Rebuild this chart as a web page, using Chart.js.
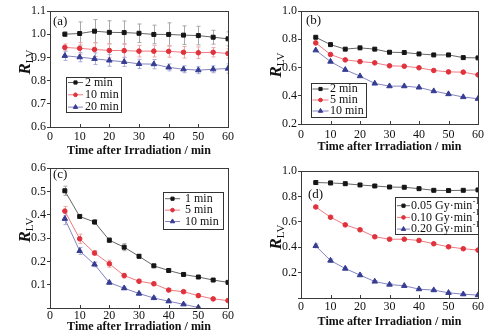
<!DOCTYPE html>
<html lang="en">
<head>
<meta charset="UTF-8" />
<title>R_LV vs time</title>
<script src="https://cdn.jsdelivr.net/npm/chart.js@4.4.1/dist/chart.umd.min.js"></script>
<style>
  * { margin: 0; padding: 0; }
  body { background: #fff; }
  .wrap { position: relative; width: 501px; height: 336px; overflow: hidden; }
  .wrap canvas { position: absolute; }
</style>
</head>
<body>
<div class="wrap">
  <canvas id="pa" style="left:0;top:0;width:250px;height:168px" width="250" height="168"></canvas>
  <canvas id="pb" style="left:250px;top:0;width:251px;height:168px" width="251" height="168"></canvas>
  <canvas id="pc" style="left:0;top:160px;width:250px;height:176px" width="250" height="176"></canvas>
  <canvas id="pd" style="left:250px;top:160px;width:251px;height:176px" width="251" height="176"></canvas>
</div>
<script>
  // time points (min)
  const times = [5, 10, 15, 20, 25, 30, 35, 40, 45, 50, 55, 60];

  // panel (a)
  const aLabels = ['2 min', '10 min', '20 min'];
  const a2 = [1.000, 1.003, 1.013, 1.008, 1.007, 1.004, 0.999, 0.999, 0.996, 0.994, 0.987, 0.980];
  const a10 = [0.943, 0.939, 0.934, 0.930, 0.929, 0.927, 0.927, 0.926, 0.922, 0.920, 0.922, 0.917];
  const a20 = [0.907, 0.901, 0.894, 0.887, 0.881, 0.872, 0.871, 0.857, 0.849, 0.845, 0.849, 0.852];
  const a2Err = [0.01, 0.05, 0.05, 0.05, 0.05, 0.04, 0.04, 0.05, 0.04, 0.04, 0.03, 0.03];
  const a10Err = [0.015, 0.025, 0.03, 0.03, 0.03, 0.025, 0.025, 0.025, 0.025, 0.025, 0.02, 0.02];
  const a20Err = [0.02, 0.02, 0.025, 0.025, 0.02, 0.02, 0.02, 0.015, 0.015, 0.015, 0.015, 0.02];

  // panel (b)
  const bLabels = ['2 min', '5 min', '10 min'];
  const b2 = [0.814, 0.762, 0.730, 0.739, 0.730, 0.708, 0.706, 0.696, 0.689, 0.689, 0.670, 0.668];
  const b5 = [0.774, 0.692, 0.654, 0.642, 0.633, 0.612, 0.609, 0.598, 0.579, 0.569, 0.567, 0.548];
  const b10 = [0.722, 0.642, 0.584, 0.539, 0.487, 0.468, 0.468, 0.459, 0.433, 0.412, 0.391, 0.379];

  // panel (c)
  const cLabels = ['1 min', '5 min', '10 min'];
  const c1 = [0.503, 0.393, 0.369, 0.291, 0.261, 0.222, 0.181, 0.161, 0.144, 0.133, 0.120, 0.110];
  const c5 = [0.416, 0.297, 0.236, 0.190, 0.139, 0.115, 0.104, 0.077, 0.070, 0.053, 0.039, 0.032];
  const c10 = [0.383, 0.245, 0.187, 0.109, 0.085, 0.062, 0.043, 0.029, 0.016, 0.002, null, null];
  const c1Err = [0.02, 0.006, 0.01, 0.01, 0.015, 0.008, 0.006, 0.006, 0.006, 0.006, 0.006, 0.005];
  const c5Err = [0.02, 0.02, 0.01, 0.015, 0.01, 0.008, 0.008, 0.006, 0.006, 0.006, 0.005, 0.005];
  const c10Err = [0.025, 0.015, 0.01, 0.006, 0.005, 0.005, 0.005, 0.005, 0.004, 0.004, 0, 0];

  // panel (d)
  const dLabels = ['0.05 Gy·min⁻¹', '0.10 Gy·min⁻¹', '0.20 Gy·min⁻¹'];
  const d005 = [0.909, 0.906, 0.900, 0.890, 0.882, 0.874, 0.872, 0.861, 0.848, 0.846, 0.848, 0.851];
  const d010 = [0.717, 0.636, 0.576, 0.537, 0.482, 0.463, 0.463, 0.453, 0.427, 0.403, 0.388, 0.377];
  const d020 = [0.410, 0.295, 0.232, 0.180, 0.130, 0.106, 0.096, 0.070, 0.062, 0.041, 0.030, 0.023];
  const d005Err = [0.015, 0.015, 0.015, 0.012, 0.012, 0.01, 0.01, 0.01, 0.008, 0.008, 0.008, 0.008];
  const d010Err = [0.01, 0.01, 0.01, 0.01, 0.01, 0.008, 0.008, 0.008, 0.008, 0.008, 0.008, 0.008];
  const d020Err = [0.015, 0.012, 0.01, 0.01, 0.008, 0.008, 0.006, 0.006, 0.006, 0.006, 0.006, 0.006];

  const SERIF = '"Liberation Serif", "DejaVu Serif", serif';
  const AXIS = '#3a3a3a';

  const styles = [
    { mark: '#151515', line: '#666666', err: '#a8a8a8', shape: 'rect', r: 2.8 },
    { mark: '#e0323c', line: '#ee7a80', err: '#f2a6aa', shape: 'circle', r: 2.3 },
    { mark: '#363c92', line: '#8484c2', err: '#a8aedc', shape: 'triangle', r: 3.2 }
  ];

  let series = (label, vals, errs, st) => ({
    label: label,
    data: times.map((t, i) => ({ x: t, y: vals[i] })),
    errors: errs,
    errColor: st.err,
    borderColor: st.line,
    backgroundColor: st.mark,
    pointBackgroundColor: st.mark,
    pointBorderColor: st.mark,
    pointStyle: st.shape,
    pointRadius: st.r,
    pointBorderWidth: 1,
    borderWidth: 1,
    tension: 0
  });

  // frame, inward x ticks, error bars, y title, panel letter, legend
  const decor = {
    id: 'decor',
    beforeDatasetsDraw(chart) {
      const { ctx, chartArea: a, scales } = chart;
      ctx.save();
      ctx.beginPath();
      ctx.rect(a.left, a.top, a.right - a.left, a.bottom - a.top);
      ctx.clip();
      ctx.lineWidth = 1;
      chart.data.datasets.forEach(d => {
        if (!d.errors) return;
        ctx.strokeStyle = d.errColor;
        d.data.forEach((p, i) => {
          const e = d.errors[i];
          if (p.y == null || !e) return;
          const px = Math.round(scales.x.getPixelForValue(p.x)) + 0.5;
          const y1 = scales.y.getPixelForValue(p.y + e);
          const y2 = scales.y.getPixelForValue(p.y - e);
          ctx.beginPath();
          ctx.moveTo(px, y1); ctx.lineTo(px, y2);
          ctx.moveTo(px - 2, y1); ctx.lineTo(px + 2, y1);
          ctx.moveTo(px - 2, y2); ctx.lineTo(px + 2, y2);
          ctx.stroke();
        });
      });
      ctx.restore();
    },
    afterDraw(chart, args, o) {
      const { ctx, chartArea: a, scales } = chart;
      ctx.save();
      // box
      ctx.strokeStyle = AXIS;
      ctx.lineWidth = 1;
      ctx.strokeRect(Math.round(a.left) + 0.5, Math.round(a.top) + 0.5,
        Math.round(a.right - a.left), Math.round(a.bottom - a.top));
      // inward x ticks
      ctx.beginPath();
      scales.x.ticks.forEach(t => {
        const px = Math.round(scales.x.getPixelForValue(t.value)) + 0.5;
        ctx.moveTo(px, a.bottom);
        ctx.lineTo(px, a.bottom - 3);
      });
      ctx.stroke();

      ctx.fillStyle = '#111';
      // panel letter
      ctx.font = '13px ' + SERIF;
      ctx.textAlign = 'left';
      ctx.textBaseline = 'middle';
      ctx.fillText(o.letter, o.letterX, o.letterY);

      // y title R_LV
      ctx.save();
      ctx.translate(o.titleX, o.titleY);
      ctx.rotate(-Math.PI / 2);
      const fR = 'italic bold 17px ' + SERIF;
      const fS = '11px ' + SERIF;
      ctx.font = fR;
      const wR = ctx.measureText('R').width;
      ctx.font = fS;
      const wS = ctx.measureText('LV').width;
      const x0 = -(wR + wS) / 2;
      ctx.textBaseline = 'alphabetic';
      ctx.font = fR;
      ctx.fillText('R', x0, 6);
      ctx.font = fS;
      ctx.fillText('LV', x0 + wR, 9);
      ctx.restore();

      // legend
      const L = o.legend;
      ctx.fillStyle = '#fff';
      ctx.fillRect(L.x, L.y, L.w, L.h);
      ctx.strokeStyle = '#333';
      ctx.strokeRect(Math.round(L.x) + 0.5, Math.round(L.y) + 0.5, Math.round(L.w), Math.round(L.h));
      chart.data.datasets.forEach((d, i) => {
        const ry = L.y + L.row0 + i * L.gap;
        ctx.strokeStyle = d.borderColor;
        ctx.beginPath();
        ctx.moveTo(L.x + 2, ry);
        ctx.lineTo(L.x + 2 + L.lineW, ry);
        ctx.stroke();
        ctx.fillStyle = d.pointBackgroundColor;
        ctx.strokeStyle = d.pointBorderColor;
        Chart.helpers.drawPoint(ctx, {
          pointStyle: d.pointStyle, radius: d.pointRadius * 0.8, rotation: 0, borderWidth: 1
        }, L.x + 2 + L.lineW / 2, ry);
        ctx.fillStyle = '#111';
        ctx.font = L.font + 'px ' + SERIF;
        ctx.textBaseline = 'middle';
        let text = d.label;
        let sup = '';
        if (text.endsWith('⁻¹')) { text = text.slice(0, -2); sup = '-1'; }
        ctx.fillText(text, L.textX, ry);
        if (sup) {
          const w = ctx.measureText(text).width;
          ctx.font = '8px ' + SERIF;
          ctx.fillText(sup, L.textX + w + 0.5, ry - 4);
        }
      });
      ctx.restore();
    }
  };

  let makePanel = (id, datasets, p) => {
    const ctx = document.getElementById(id).getContext('2d');
    return new Chart(ctx, {
      type: 'line',
      data: { datasets: datasets },
      options: {
        responsive: false,
        animation: false,
        events: [],
        layout: { padding: { left: 0, top: p.top, right: p.right, bottom: 0 } },
        plugins: {
          legend: { display: false },
          tooltip: { enabled: false },
          decor: p.decor
        },
        scales: {
          x: {
            type: 'linear', min: 0, max: 60,
            afterFit: s => { s.height = p.xH; },
            grid: { drawOnChartArea: false, drawTicks: false },
            border: { color: AXIS },
            ticks: { stepSize: 10, padding: p.xPad, color: '#111', font: { family: SERIF, size: 12 }, maxRotation: 0 },
            title: {
              display: true, text: 'Time after Irradiation / min', color: '#111',
              font: { family: SERIF, size: 12, weight: 'bold' },
              padding: { top: 0, bottom: p.titlePad }
            }
          },
          y: {
            min: p.yMin, max: p.yMax,
            afterFit: s => { s.width = p.yW; },
            grid: { drawOnChartArea: false, drawTicks: true, tickLength: 3, color: AXIS },
            border: { color: AXIS },
            ticks: {
              stepSize: p.step, padding: 1, color: '#111',
              font: { family: SERIF, size: 12 },
              callback: v => (p.hideZero && Math.abs(v) < 1e-9) ? '' : Number(v).toFixed(1)
            }
          }
        }
      },
      plugins: [decor]
    });
  };

  makePanel('pa', [
    series(aLabels[0], a2, a2Err, styles[0]),
    series(aLabels[1], a10, a10Err, styles[1]),
    series(aLabels[2], a20, a20Err, styles[2])
  ], {
    top: 11, right: 22, yW: 50, xH: 41, xPad: 3, titlePad: 10,
    yMin: 0.6, yMax: 1.1, step: 0.1, hideZero: false,
    decor: {
      letter: '(a)', letterX: 53, letterY: 22, titleX: 24, titleY: 62,
      legend: { x: 66, y: 77, w: 55, h: 35, row0: 5.5, gap: 12.3, lineW: 15, textX: 85, font: 12 }
    }
  });

  makePanel('pb', [
    series(bLabels[0], b2, null, styles[0]),
    series(bLabels[1], b5, null, styles[1]),
    series(bLabels[2], b10, null, styles[2])
  ], {
    top: 11, right: 23, yW: 51, xH: 44, xPad: 4, titlePad: 14,
    yMin: 0.2, yMax: 1.0, step: 0.2, hideZero: false,
    decor: {
      letter: '(b)', letterX: 56, letterY: 21, titleX: 25, titleY: 65,
      legend: { x: 60.5, y: 83, w: 54.5, h: 34, row0: 6, gap: 11, lineW: 16, textX: 80, font: 12 }
    }
  });

  makePanel('pc', [
    series(cLabels[0], c1, c1Err, styles[0]),
    series(cLabels[1], c5, c5Err, styles[1]),
    series(cLabels[2], c10, c10Err, styles[2])
  ], {
    top: 7, right: 22, yW: 50, xH: 28, xPad: 1, titlePad: 1.5,
    yMin: 0, yMax: 0.6, step: 0.1, hideZero: true,
    decor: {
      letter: '(c)', letterX: 53, letterY: 15, titleX: 24, titleY: 70,
      legend: { x: 163, y: 32, w: 60, h: 37, row0: 6.7, gap: 11.4, lineW: 15, textX: 185, font: 12 }
    }
  });

  makePanel('pd', [
    series(dLabels[0], d005, d005Err, styles[0]),
    series(dLabels[1], d010, d010Err, styles[1]),
    series(dLabels[2], d020, d020Err, styles[2])
  ], {
    top: 11, right: 23, yW: 51, xH: 38, xPad: 2, titlePad: 7,
    yMin: 0, yMax: 1.0, step: 0.2, hideZero: true,
    decor: {
      letter: '(d)', letterX: 58, letterY: 35, titleX: 25, titleY: 77,
      legend: { x: 145, y: 37, w: 83, h: 37, row0: 8.7, gap: 11.7, lineW: 13, textX: 161, font: 12 }
    }
  });
</script>
</body>
</html>
